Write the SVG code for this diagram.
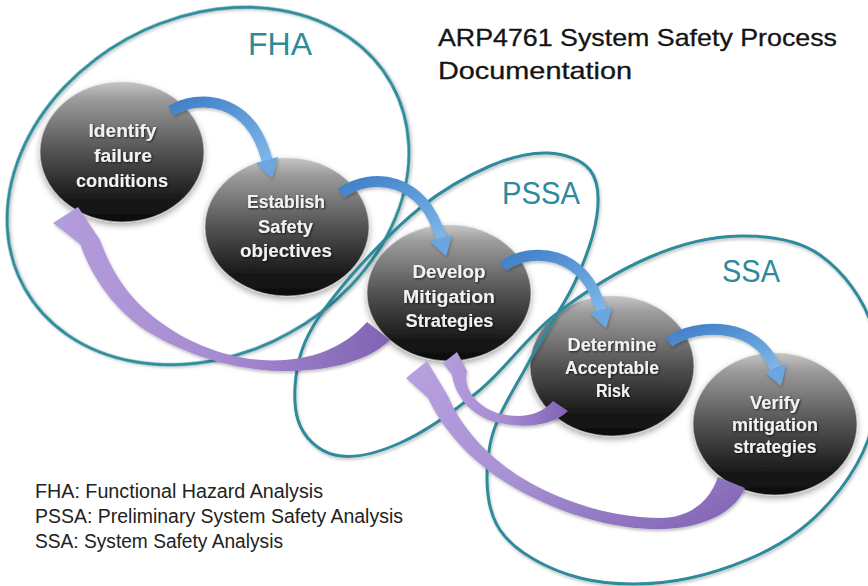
<svg xmlns="http://www.w3.org/2000/svg" width="868" height="586" viewBox="0 0 868 586">
  <defs>
    <linearGradient id="nodeFill" x1="0" y1="0" x2="0" y2="1">
      <stop offset="0" stop-color="#c6c6c6"/>
      <stop offset="0.12" stop-color="#9c9c9c"/>
      <stop offset="0.5" stop-color="#525252"/>
      <stop offset="0.85" stop-color="#171717"/>
      <stop offset="1" stop-color="#0e0e0e"/>
    </linearGradient>
    <linearGradient id="blueFill" x1="0" y1="0" x2="1" y2="1">
      <stop offset="0" stop-color="#3f7fc8"/>
      <stop offset="1" stop-color="#7db6ea"/>
    </linearGradient>
    <linearGradient id="purpleLeft" x1="1" y1="0" x2="0" y2="0">
      <stop offset="0" stop-color="#8163b4"/>
      <stop offset="0.5" stop-color="#a58bd0"/>
      <stop offset="1" stop-color="#b49ddc"/>
    </linearGradient>
    <linearGradient id="purpleDiag" x1="1" y1="1" x2="0" y2="0">
      <stop offset="0" stop-color="#7f61b2"/>
      <stop offset="0.5" stop-color="#a891d4"/>
      <stop offset="1" stop-color="#b7a1de"/>
    </linearGradient>
    <filter id="nodeShadow" x="-20%" y="-20%" width="140%" height="150%">
      <feDropShadow dx="0" dy="3" stdDeviation="3" flood-color="#000" flood-opacity="0.35"/>
    </filter>
    <filter id="softShadow" x="-10%" y="-10%" width="120%" height="130%">
      <feDropShadow dx="1" dy="2" stdDeviation="1.5" flood-color="#000" flood-opacity="0.25"/>
    </filter>
    <filter id="textShadow" x="-10%" y="-30%" width="120%" height="160%">
      <feDropShadow dx="1" dy="1" stdDeviation="0.8" flood-color="#000" flood-opacity="0.7"/>
    </filter>
  </defs>
  <style>
    .node { fill: url(#nodeFill); stroke: #d8d8d8; stroke-opacity: 0.55; stroke-width: 1.2; filter: url(#nodeShadow); }
    .label { font-family: "Liberation Sans", Arial, sans-serif; font-weight: bold; font-size: 17.5px; fill: #f2f2f2; text-anchor: middle; filter: url(#textShadow); }
    .scope { fill: none; stroke: #2f8b9b; stroke-width: 3; filter: url(#softShadow); }
    .scopeName { font-family: "Liberation Sans", Arial, sans-serif; font-size: 31px; fill: #2d8a9b; }
    .title { font-family: "Liberation Sans", Arial, sans-serif; font-size: 24px; fill: #141414; stroke: #141414; stroke-width: 0.3; }
    .legend { font-family: "Liberation Sans", Arial, sans-serif; font-size: 20px; fill: #222222; }
    .flow { fill: none; stroke: url(#blueFill); stroke-width: 11; stroke-linecap: butt; }
    .flowHead { fill: #6aa6e0; }
    .back { stroke: none; filter: url(#softShadow); }
  </style>

  <rect width="868" height="586" fill="#ffffff"/>

  <!-- title and legend -->
  <text class="title" x="438" y="45.5" textLength="399" lengthAdjust="spacingAndGlyphs">ARP4761 System Safety Process</text>
  <text class="title" x="438" y="79" textLength="194" lengthAdjust="spacingAndGlyphs">Documentation</text>

  <text class="legend" x="35" y="498.3" textLength="288" lengthAdjust="spacingAndGlyphs">FHA: Functional Hazard Analysis</text>
  <text class="legend" x="35" y="523.3" textLength="368" lengthAdjust="spacingAndGlyphs">PSSA: Preliminary System Safety Analysis</text>
  <text class="legend" x="35" y="548.3" textLength="248" lengthAdjust="spacingAndGlyphs">SSA: System Safety Analysis</text>

  <!-- process steps -->
  <g id="node-identify">
    <ellipse class="node" cx="122" cy="152" rx="82" ry="70"/>
    <text class="label" x="122.5" y="137" textLength="68" lengthAdjust="spacingAndGlyphs">Identify</text>
    <text class="label" x="123" y="162" textLength="58" lengthAdjust="spacingAndGlyphs">failure</text>
    <text class="label" x="122" y="187" textLength="92" lengthAdjust="spacingAndGlyphs">conditions</text>
  </g>
  <g id="node-establish">
    <ellipse class="node" cx="287" cy="227" rx="82" ry="69"/>
    <text class="label" x="286" y="208" textLength="78" lengthAdjust="spacingAndGlyphs">Establish</text>
    <text class="label" x="285.5" y="233" textLength="55" lengthAdjust="spacingAndGlyphs">Safety</text>
    <text class="label" x="286" y="257" textLength="92" lengthAdjust="spacingAndGlyphs">objectives</text>
  </g>
  <g id="node-develop">
    <ellipse class="node" cx="449" cy="293" rx="82" ry="68"/>
    <text class="label" x="449" y="278" textLength="73" lengthAdjust="spacingAndGlyphs">Develop</text>
    <text class="label" x="449" y="303" textLength="92" lengthAdjust="spacingAndGlyphs">Mitigation</text>
    <text class="label" x="449.5" y="327" textLength="88" lengthAdjust="spacingAndGlyphs">Strategies</text>
  </g>
  <g id="node-determine">
    <ellipse class="node" cx="612" cy="366" rx="82" ry="70"/>
    <text class="label" x="612" y="351" textLength="89" lengthAdjust="spacingAndGlyphs">Determine</text>
    <text class="label" x="612" y="374" textLength="94" lengthAdjust="spacingAndGlyphs">Acceptable</text>
    <text class="label" x="613" y="397" textLength="34" lengthAdjust="spacingAndGlyphs">Risk</text>
  </g>
  <g id="node-verify">
    <ellipse class="node" cx="775" cy="424" rx="82" ry="71"/>
    <text class="label" x="775" y="409" textLength="50" lengthAdjust="spacingAndGlyphs">Verify</text>
    <text class="label" x="775" y="431" textLength="86" lengthAdjust="spacingAndGlyphs">mitigation</text>
    <text class="label" x="775" y="453" textLength="83" lengthAdjust="spacingAndGlyphs">strategies</text>
  </g>

  <!-- analysis scopes -->
  <g id="scopes">
    <ellipse id="scope-fha" class="scope" cx="208" cy="186" rx="210" ry="168" transform="rotate(-29 208 186)"/>
    <path id="scope-pssa-ssa" class="scope" d="M548,153 C564.7,153.7 581.8,159.7 590,170 C598.2,180.3 599.5,196.3 597,215 C594.5,233.7 586.2,257.8 575,282 C563.8,306.2 544.2,332.8 530,360 C515.8,387.2 495,416.7 490,445 C485,473.3 485,507.8 500,530 C515,552.2 548.3,570 580,578 C611.7,586 653.3,586 690,578 C726.7,570 770.3,553 800,530 C829.7,507 855.8,473.3 868,440 C880.2,406.7 881,360.8 873,330 C865,299.2 842.2,270.7 820,255 C797.8,239.3 768.3,235.7 740,236 C711.7,236.3 680.8,243.8 650,257 C619.2,270.2 583.3,292.8 555,315 C526.7,337.2 505.8,368.7 480,390 C454.2,411.3 424.2,432.2 400,443 C375.8,453.8 352,458.8 335,455 C318,451.2 303.5,437.5 298,420 C292.5,402.5 294.2,372.8 302,350 C309.8,327.2 325.3,306.7 345,283 C364.7,259.3 395.8,227.5 420,208 C444.2,188.5 468.7,175.2 490,166 C511.3,156.8 531.3,152.3 548,153 Z"/>
    <text class="scopeName" x="248" y="55" textLength="64" lengthAdjust="spacingAndGlyphs">FHA</text>
    <text class="scopeName" x="502" y="204" textLength="78" lengthAdjust="spacingAndGlyphs">PSSA</text>
    <text class="scopeName" x="722" y="281.5" textLength="58" lengthAdjust="spacingAndGlyphs">SSA</text>
  </g>

  <!-- connectors: forward flow (blue) and feedback (purple) -->
  <g id="connectors">
    <g id="flow-identify-establish" filter="url(#softShadow)">
      <path class="flow" d="M171,111 C198,94 250,96 267,160"/>
      <polygon class="flowHead" points="256,163 278,157 272,178"/>
    </g>
    <g id="flow-establish-develop" filter="url(#softShadow)">
      <path class="flow" d="M341,193 C372,172 423,176 441,238"/>
      <polygon class="flowHead" points="430,241 452,235 446,256"/>
    </g>
    <g id="flow-develop-determine" filter="url(#softShadow)">
      <path class="flow" d="M503,266 C532,246 585,250 601,310"/>
      <polygon class="flowHead" points="590,313 612,307 606,328"/>
    </g>
    <g id="flow-determine-verify" filter="url(#softShadow)">
      <path class="flow" d="M669,342 C697,322 758,322 775,368"/>
      <polygon class="flowHead" points="765,372 786,364 781,386"/>
    </g>

    <path id="back-develop-identify" class="back" fill="url(#purpleLeft)" d="M367,322 L390,340 C370,360 330,372 280,371 C230,370 180,352 145,330 C115,310 92,278 80,244 L53,223 L78,207 L100,240 C108,262 120,285 140,305 C168,332 205,352 250,359 C300,365 340,352 367,322 Z"/>
    <path id="back-determine-develop" class="back" fill="url(#purpleLeft)" d="M553,401 L568,411 C550,428 520,428 495,422 C470,415 455,395 452,375 L443,363 L457,352 L467,371 C463,388 475,405 497,413 C520,419 540,416 553,401 Z"/>
    <path id="back-verify-develop" class="back" fill="url(#purpleDiag)" d="M718,477 L745,488 C735,512 705,527 665,529 C610,531 550,510 505,482 C470,460 443,430 428,398 L406,378 L427,361 L448,396 C460,425 485,455 522,478 C562,502 612,518 662,518 C692,517 710,500 718,477 Z"/>
  </g>
</svg>
